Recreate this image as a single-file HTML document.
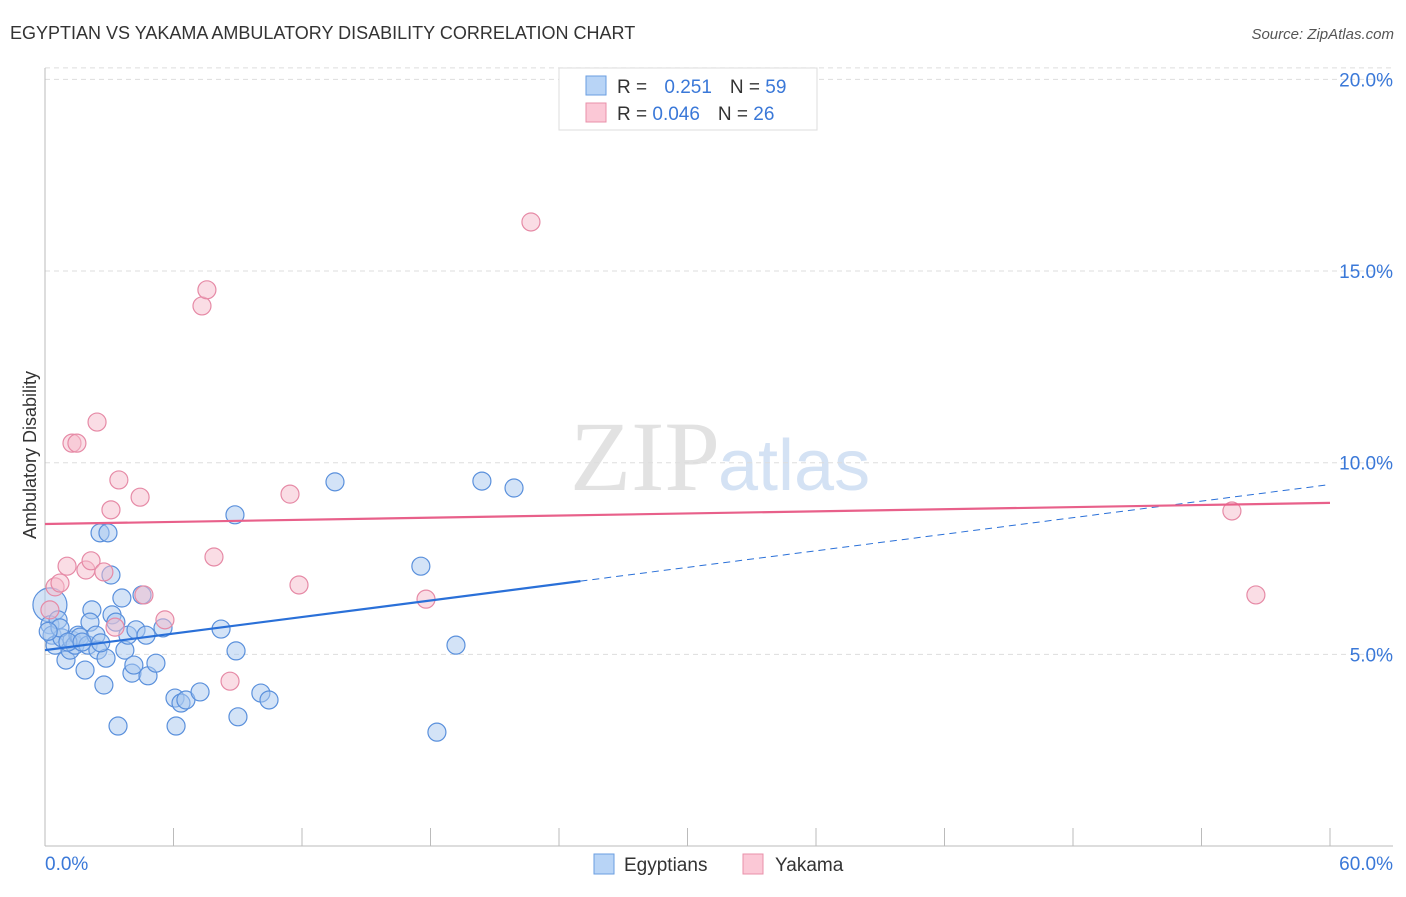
<!DOCTYPE html>
<html><head><meta charset="utf-8"><style>
body{margin:0;background:#fff;font-family:"Liberation Sans",sans-serif}
svg text{font-family:"Liberation Sans",sans-serif}
</style></head><body>
<svg width="1406" height="892" xmlns="http://www.w3.org/2000/svg">
<text x="10" y="39" font-size="18" fill="#333">EGYPTIAN VS YAKAMA AMBULATORY DISABILITY CORRELATION CHART</text>
<text x="1394" y="39" font-size="15" fill="#555" font-style="italic" text-anchor="end">Source: ZipAtlas.com</text>
<text x="720" y="490" font-size="100" fill="#e2e2e2" text-anchor="end" font-family="Liberation Serif" style="font-family:'Liberation Serif',serif">ZIP</text>
<text x="718" y="490" font-size="72" fill="#d4e2f4">atlas</text>
<g id="grid"></g>
<g id="axes"></g>
<g id="marks"></g>
<g>
<rect x="559" y="68" width="258" height="62" fill="#fff" stroke="#ddd"/>
<rect x="586" y="76" width="20" height="19" fill="#b8d4f6" stroke="#6a9ee0"/>
<rect x="586" y="103" width="20" height="19" fill="#fbc8d6" stroke="#e890aa"/>
<text x="617" y="93" font-size="19" fill="#333">R = <tspan fill="#3a78d8" dx="12">0.251</tspan><tspan fill="#333" dx="18">N = </tspan><tspan fill="#3a78d8">59</tspan></text>
<text x="617" y="120" font-size="19" fill="#333">R = <tspan fill="#3a78d8">0.046</tspan><tspan fill="#333" dx="18">N = </tspan><tspan fill="#3a78d8">26</tspan></text>
</g>
<text x="36" y="455" font-size="18" fill="#333" text-anchor="middle" transform="rotate(-90 36 455)">Ambulatory Disability</text>
<rect x="594" y="854" width="20" height="20" fill="#b8d4f6" stroke="#6a9ee0"/>
<text x="624" y="871" font-size="19" fill="#333">Egyptians</text>
<rect x="743" y="854" width="20" height="20" fill="#fbc8d6" stroke="#e890aa"/>
<text x="775" y="871" font-size="19" fill="#333">Yakama</text>
</svg>
<script>
const xTicksPct=[0,6,12,18,24,30,36,42,48,54,60];
const yTicksPct=[5,10,15,20];
const yTickLabels=["5.0%","10.0%","15.0%","20.0%"];
const xEndLabels=["0.0%","60.0%"];
const egyX=[0.23,0.23,0.33,0.47,0.61,0.79,0.98,1.17,1.26,1.40,1.54,1.63,1.87,2.01,2.19,2.10,2.38,2.47,2.57,2.75,2.94,2.85,3.08,3.13,3.31,3.41,3.59,3.73,3.87,4.06,4.15,4.25,4.53,4.72,4.81,5.18,5.51,6.07,6.12,6.35,6.58,7.24,8.22,8.87,8.92,9.01,10.08,10.46,13.54,17.55,18.30,19.19,20.40,21.90,0.70,1.07,1.73,0.15,2.6];
const egyY=[6.29,5.77,5.50,5.24,5.90,5.43,4.85,5.11,5.37,5.24,5.50,5.45,4.59,5.24,6.16,5.84,5.50,5.11,8.17,4.20,8.17,4.90,7.07,6.03,5.84,3.13,6.47,5.11,5.50,4.51,4.72,5.64,6.55,5.50,4.44,4.77,5.69,3.86,3.13,3.73,3.81,4.02,5.66,8.64,5.09,3.37,3.99,3.81,9.50,7.30,2.97,5.24,9.52,9.34,5.69,5.32,5.32,5.6,5.3];
const yakX=[0.23,0.47,0.70,1.03,1.26,1.49,1.91,2.15,2.43,2.75,3.08,3.27,3.45,4.44,4.62,5.60,7.33,7.56,7.89,8.64,11.44,11.86,17.79,22.69,55.42,56.54];
const yakY=[6.16,6.76,6.86,7.30,10.51,10.51,7.20,7.44,11.06,7.15,8.77,5.71,9.55,9.10,6.55,5.90,14.09,14.51,7.54,4.30,9.18,6.81,6.44,16.28,8.74,6.55];
const egyTrend=[5.11,0.072];
const yakTrend=[8.40,0.0092];
const X=v=>45+v*(1285/60), Y=v=>846-v*38.33;
const NS="http://www.w3.org/2000/svg";
function mk(t,a,p){const e=document.createElementNS(NS,t);for(const k in a)e.setAttribute(k,a[k]);p.appendChild(e);return e;}
const grid=document.getElementById('grid'),axes=document.getElementById('axes'),marks=document.getElementById('marks');
yTicksPct.forEach((v,i)=>{
 const l=mk('line',{x1:45,x2:1393,y1:Y(v),y2:Y(v),stroke:'#ddd','stroke-dasharray':'5,4'},grid);
 
 
 const t=mk('text',{x:1393,y:Y(v)+7,'font-size':19,fill:'#3a78d8','text-anchor':'end'},axes);t.textContent=yTickLabels[i];
 
 
});
{const l=mk('line',{x1:45,x2:1393,y1:Y(20.3),y2:Y(20.3),stroke:'#ddd','stroke-dasharray':'5,4'},grid);}
const ax=mk('line',{x1:45,x2:45,y1:68,y2:846,stroke:'#bbb'},axes);


const bx=mk('line',{x1:45,x2:1393,y1:846,y2:846,stroke:'#bbb'},axes);


xTicksPct.forEach(v=>{const t=mk('line',{x1:X(v),x2:X(v),y1:828,y2:846,stroke:'#bbb'},axes);
 
 });
const xl0=mk('text',{x:45,y:870,'font-size':19,fill:'#3a78d8'},axes);xl0.textContent=xEndLabels[0];


const xl1=mk('text',{x:1393,y:870,'font-size':19,fill:'#3a78d8','text-anchor':'end'},axes);xl1.textContent=xEndLabels[1];


egyX.forEach((x,i)=>{const c=mk('circle',{cx:X(x),cy:Y(egyY[i]),r:i===0?17:9,fill:'#a8c8f0','fill-opacity':0.5,stroke:'#5a90dc','stroke-width':1.2},marks);
 
 });
yakX.forEach((x,i)=>{const c=mk('circle',{cx:X(x),cy:Y(yakY[i]),r:9,fill:'#f6bccc','fill-opacity':0.5,stroke:'#e68aa6','stroke-width':1.2},marks);
 
 });
const f=(t,x)=>t[0]+t[1]*x;
const l1=mk('line',{x1:X(0),y1:Y(f(egyTrend,0)),x2:X(25),y2:Y(f(egyTrend,25)),stroke:'#2a70d8','stroke-width':2.2},marks);


const l2=mk('line',{x1:X(25),y1:Y(f(egyTrend,25)),x2:X(60),y2:Y(f(egyTrend,60)),stroke:'#2a70d8','stroke-width':1,'stroke-dasharray':'7,5'},marks);


const l3=mk('line',{x1:X(0),y1:Y(f(yakTrend,0)),x2:X(60),y2:Y(f(yakTrend,60)),stroke:'#e8608a','stroke-width':2.2},marks);


</script>
</body></html>
